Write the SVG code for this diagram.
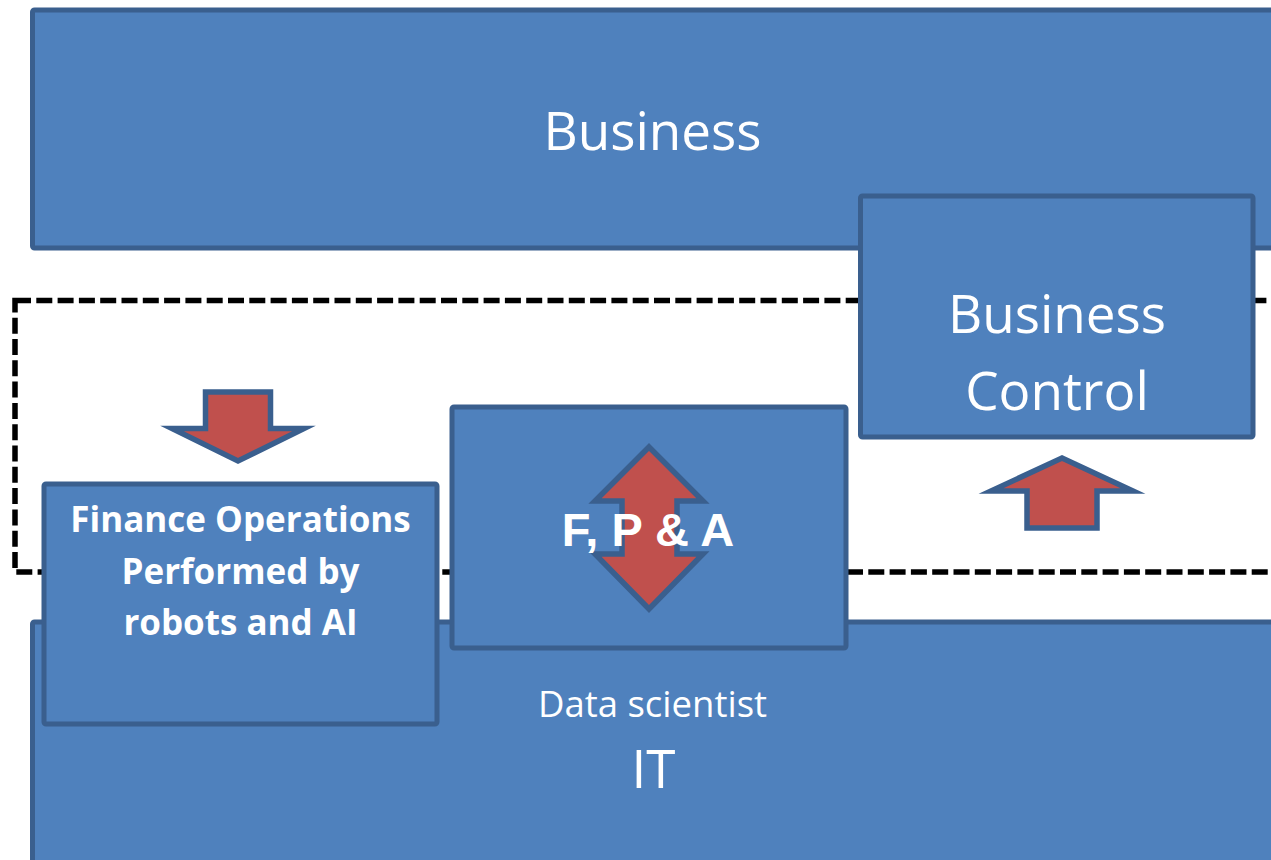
<svg xmlns="http://www.w3.org/2000/svg" width="1271" height="860" viewBox="0 0 1271 860">
<style>
.box{fill:#4F81BD;stroke:#3A5F8E;stroke-width:5;stroke-linejoin:round}
.arrow{fill:#C0504D;stroke:#3A5F8E;stroke-width:5.5;stroke-linejoin:miter;stroke-miterlimit:10}
.dash{fill:none;stroke:#000;stroke-width:5.5;stroke-dasharray:16 5.3}
.big{font-family:"Open Sans","Noto Sans",sans-serif;font-size:53px;fill:#fff;text-anchor:middle}
.mid{font-family:"Open Sans","Noto Sans",sans-serif;font-size:36.5px;fill:#fff;text-anchor:middle}
.bold{font-family:"Open Sans","Noto Sans",sans-serif;font-weight:bold;font-size:35px;fill:#fff;text-anchor:middle}
.fpa{font-family:"Liberation Sans",Arial,sans-serif;font-weight:bold;font-size:47px;fill:#fff;text-anchor:middle}
</style>
<rect width="1271" height="860" fill="#fff"/>
<g id="business">
<rect class="box" x="32.5" y="10" width="1260" height="238" rx="2"/>
<text class="big" x="652.5" y="150">Business</text>
</g>
<g id="scope">
<rect class="dash" x="15" y="300.5" width="1300" height="271.5"/>
</g>
<g id="business-control">
<rect class="box" x="860.5" y="196" width="392.5" height="241" rx="2"/>
<text class="big" x="1057" y="333">Business</text>
<text class="big" x="1057" y="410">Control</text>
</g>
<g id="it">
<rect class="box" x="32.5" y="622" width="1260" height="260" rx="2"/>
<text class="mid" x="652.5" y="717">Data scientist</text>
<text class="big" x="653.5" y="788">IT</text>
</g>
<g id="finance-operations">
<rect class="box" x="44" y="484" width="393" height="240" rx="2"/>
<text class="bold" x="240.5" y="532">Finance Operations</text>
<text class="bold" x="240.5" y="583.5">Performed by</text>
<text class="bold" x="240.5" y="635">robots and AI</text>
</g>
<g id="fpa">
<rect class="box" x="452" y="407" width="394" height="241" rx="2"/>
</g>
<g id="connectors">
<polygon class="arrow" points="205.5,392 270.5,392 270.5,428.5 304,428.5 238,461 172,428.5 205.5,428.5"/>
<polygon class="arrow" points="649,447 703,501 677,501 677,554 703,554 649,609 595,554 622,554 622,501 595,501"/>
<polygon class="arrow" points="1062,458 1133,491 1097,491 1097,528 1027,528 1027,491 991,491"/>
</g>
<g id="fpa-label">
<text class="fpa" x="648" y="546">F, P &amp; A</text>
</g>
</svg>
